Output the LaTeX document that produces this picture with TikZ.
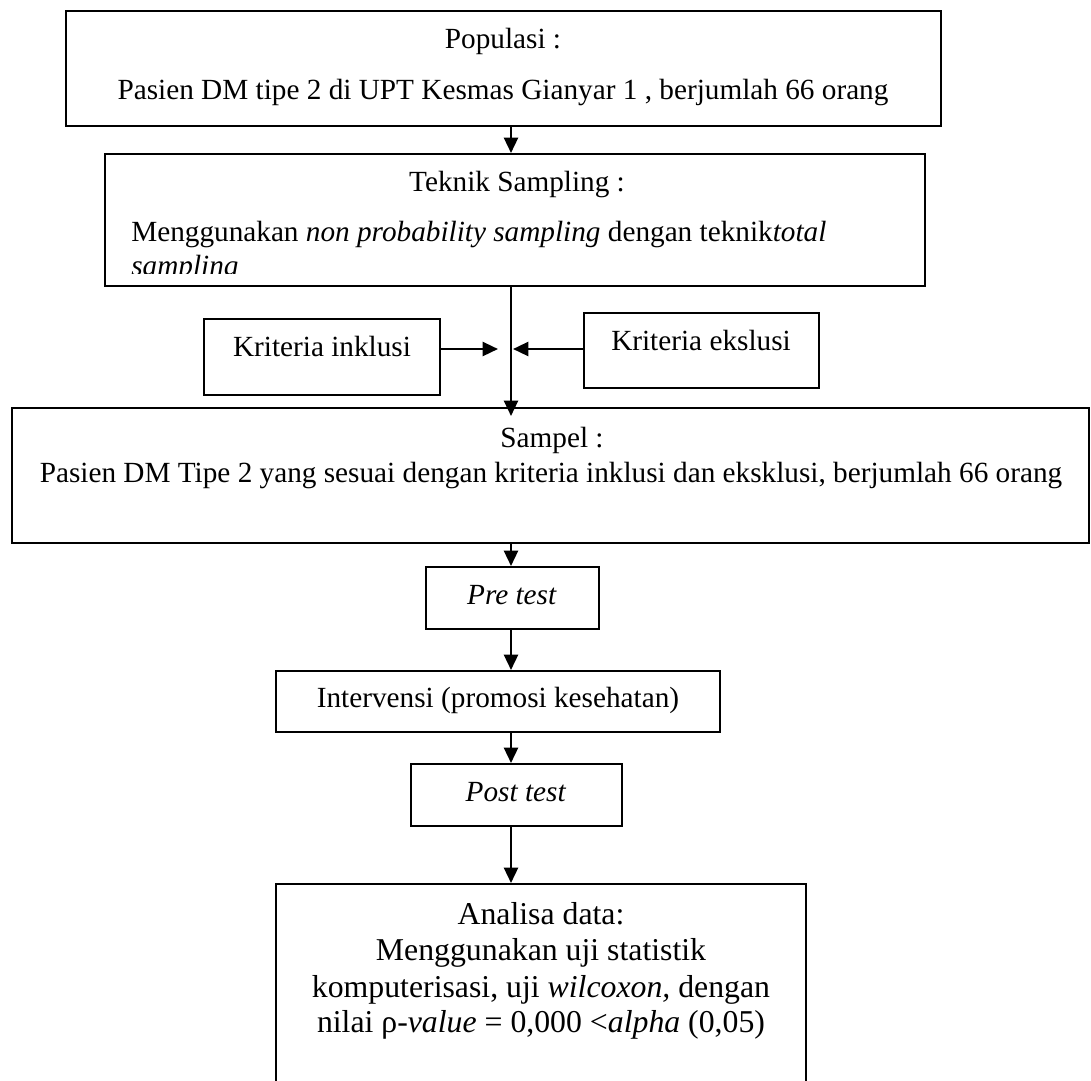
\documentclass[tikz,border=0pt]{standalone}
\usepackage{fontspec}
\setmainfont{Liberation Serif}
\usetikzlibrary{arrows.meta}

\tikzset{
  box/.style={draw, line width=1.4pt, inner sep=0pt},
  txt/.style={font=\fontsize{20.8}{25}\selectfont, inner sep=0pt, anchor=base},
  bigtxt/.style={txt, font=\fontsize{22.6}{27}\selectfont},
  arr/.style={line width=1.8pt, -{Triangle[length=11pt,width=10pt]}}
}

\begin{document}
\begin{tikzpicture}[x=0.025cm, y=-0.025cm]
    \def\pw{0.025cm}
    \clip (0,0) rectangle (1091,1080);
    % boxes
    \node[box, minimum width=875*\pw, minimum height=115*\pw] (pop) at (503.5,68.5) {};
    \node[box, minimum width=820*\pw, minimum height=132*\pw] (tek) at (515,220) {};
    \node[box, minimum width=236*\pw, minimum height=76*\pw] (inkl) at (322,357) {};
    \node[box, minimum width=235*\pw, minimum height=75*\pw] (eksl) at (701.5,350.5) {};
    \node[box, minimum width=1077*\pw, minimum height=135*\pw] (sampel) at (550.5,475.5) {};
    \node[box, minimum width=173*\pw, minimum height=62*\pw] (pre) at (512.5,598) {};
    \node[box, minimum width=444*\pw, minimum height=61*\pw] (interv) at (498,701.5) {};
    \node[box, minimum width=211*\pw, minimum height=62*\pw] (post) at (516.5,795) {};
    \node[box, minimum width=530*\pw, minimum height=226*\pw] (analisa) at (541,997) {};
    % texts
    \node[txt] (poptitle) at (503,48) {Populasi :};
    \node[txt] (poptext) at (503,99) {Pasien DM tipe 2 di UPT Kesmas Gianyar 1 , berjumlah 66 orang};
    \node[txt] (tektitle) at (517,191) {Teknik Sampling :};
    \node[txt, anchor=base west] (tektext) at (131,241) {Menggunakan \textit{non probability sampling} dengan teknik\textit{total}};
    \begin{scope}
      \clip (100,150) rectangle (930,273);
      \node[txt, anchor=base west] (tekmore) at (131,275) {\textit{sampling}};
    \end{scope}
    \node[txt] (inkltext) at (322,356) {Kriteria inklusi};
    \node[txt] (eksltext) at (701,350) {Kriteria ekslusi};
    \node[txt] (sampeltitle) at (552,447) {Sampel :};
    \node[txt] (sampeltext) at (551,482) {Pasien DM Tipe 2 yang sesuai dengan kriteria inklusi dan eksklusi, berjumlah 66 orang};
    \node[txt] (pretext) at (512,604) {\textit{Pre test}};
    \node[txt] (intervtext) at (498,707) {Intervensi (promosi kesehatan)};
    \node[txt] (posttext) at (516,801) {\textit{Post test}};
    \node[bigtxt] (ana1) at (541,924) {Analisa data:};
    \node[bigtxt] (ana2) at (541,960) {Menggunakan uji statistik};
    \node[bigtxt] (ana3) at (541,997) {komputerisasi, uji \textit{wilcoxon,} dengan};
    \node[bigtxt] (ana4) at (541,1032) {nilai ρ-\textit{value} = 0,000 <\textit{alpha} (0,05)};
    % arrows
    \coordinate (axis) at (511,0);
    \coordinate (hub) at (511,416);
    \coordinate (inkltip) at (498,349);
    \coordinate (eksltip) at (513,349);
    \draw[arr] (pop.south -| axis) -- (tek.north -| axis);
    \draw[arr] (tek.south -| axis) -- (hub);
    \draw[arr] (inkl.east |- inkltip) -- (inkltip);
    \draw[arr] (eksl.west |- eksltip) -- (eksltip);
    \draw[arr] (sampel.south -| axis) -- (pre.north -| axis);
    \draw[arr] (pre.south -| axis) -- (interv.north -| axis);
    \draw[arr] (interv.south -| axis) -- (post.north -| axis);
    \draw[arr] (post.south -| axis) -- (analisa.north -| axis);
\end{tikzpicture}
\end{document}
